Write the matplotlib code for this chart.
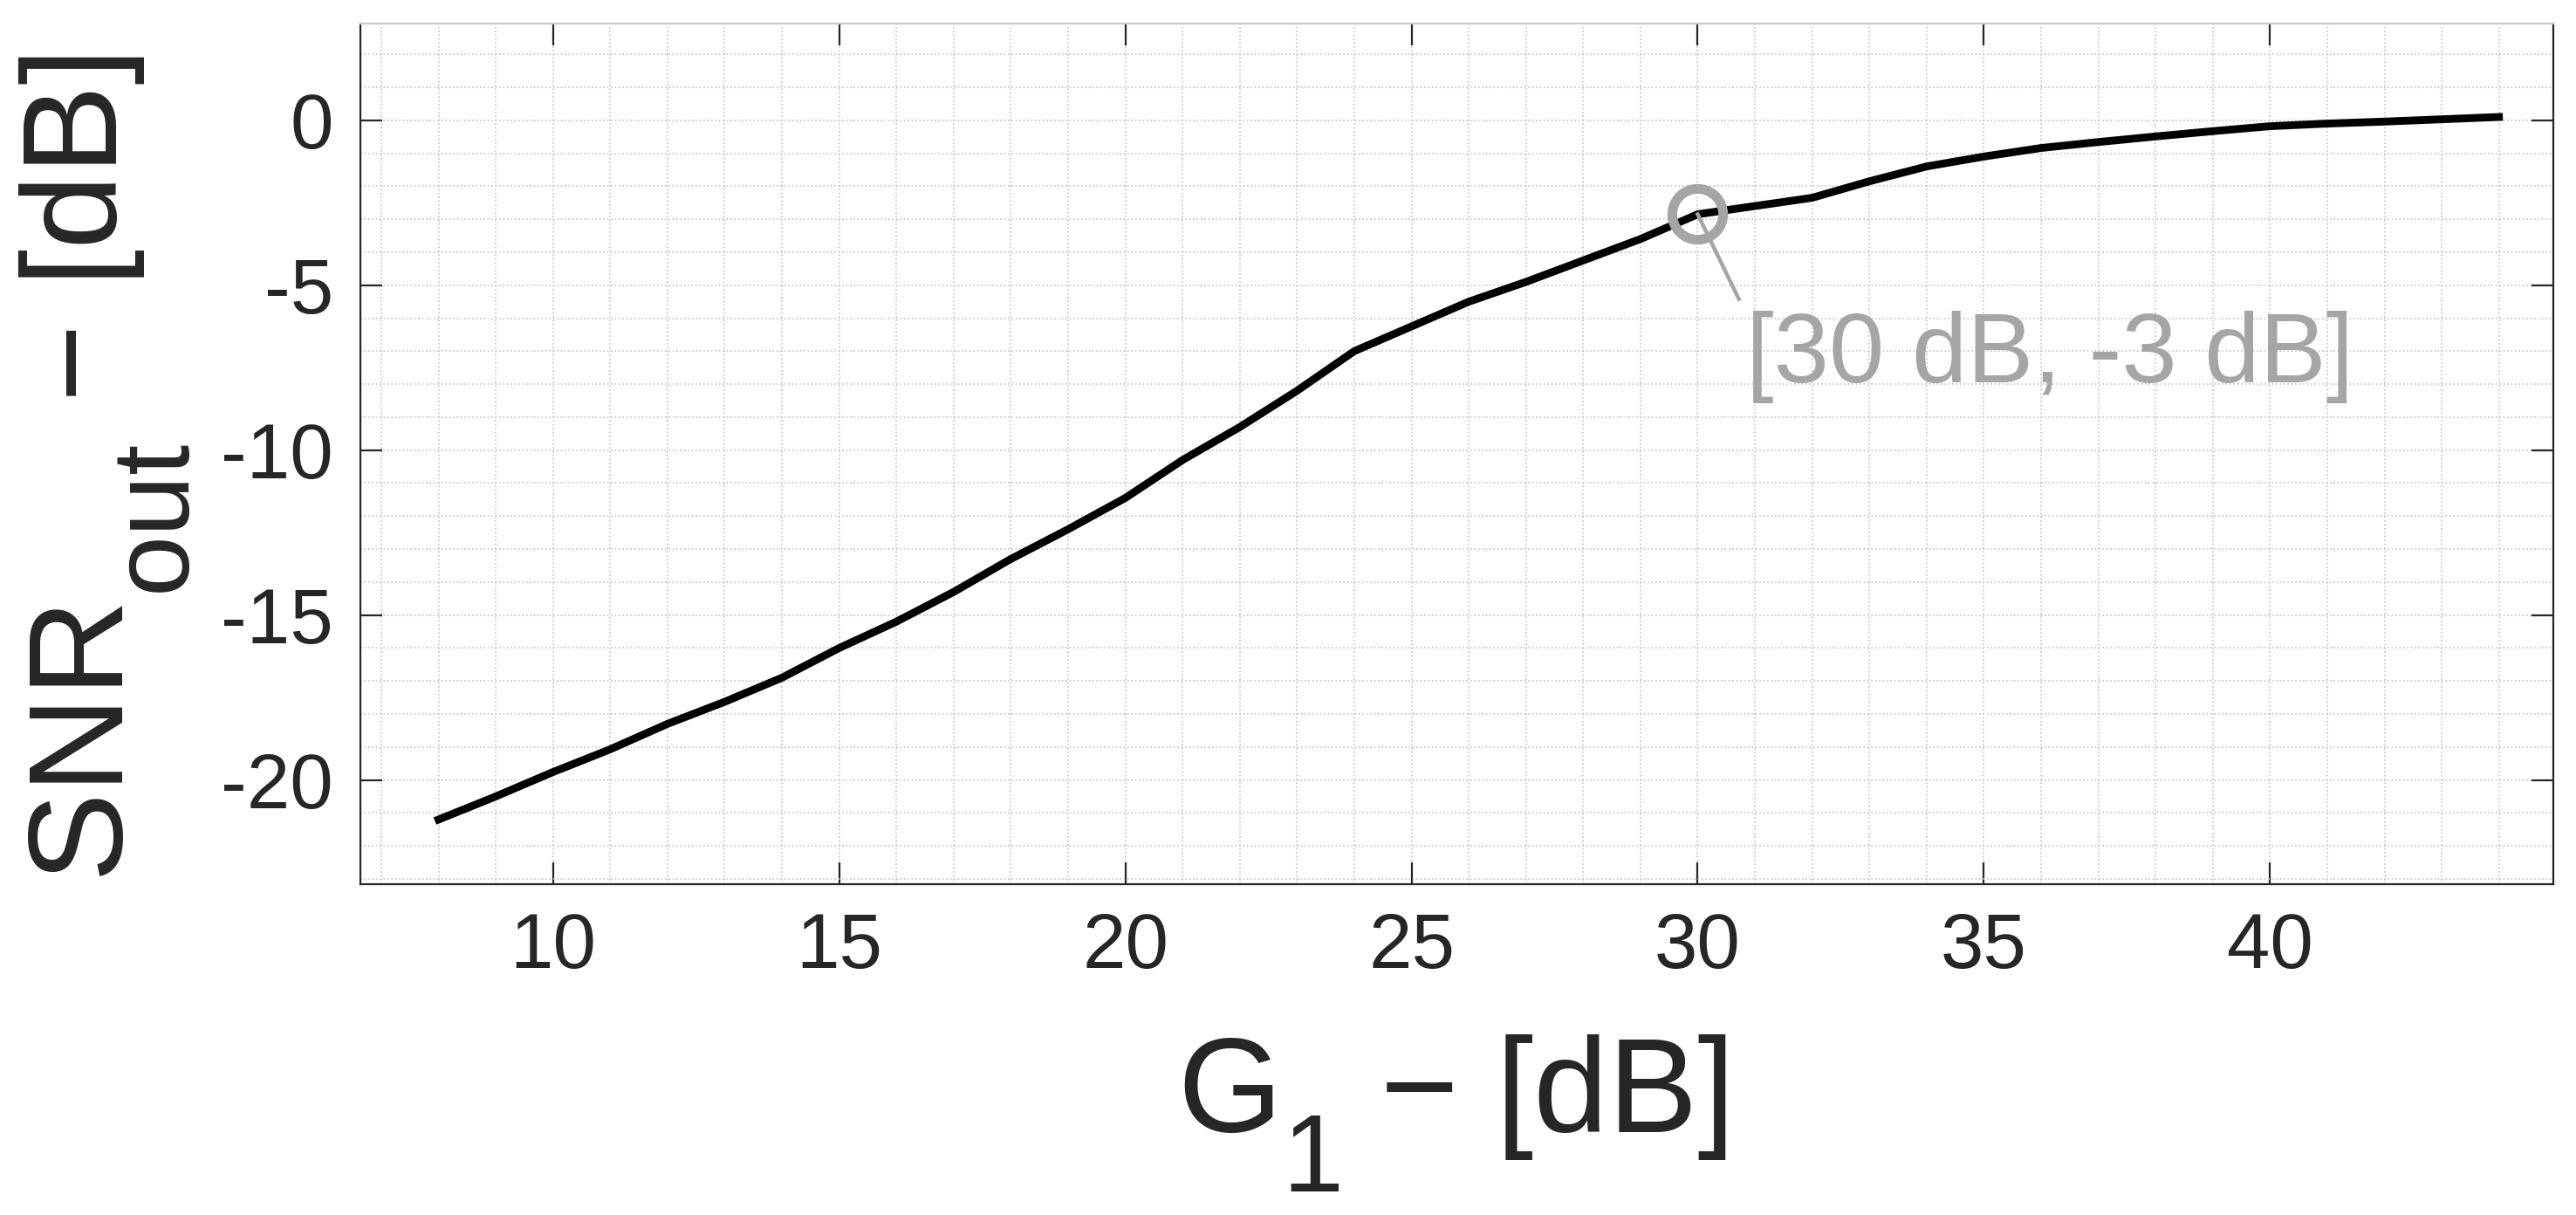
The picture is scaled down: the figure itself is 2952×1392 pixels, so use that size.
import matplotlib.pyplot as plt
from matplotlib.ticker import MultipleLocator

plt.rcParams["font.family"] = ["Liberation Sans", "DejaVu Sans"]
plt.rcParams["axes.unicode_minus"] = False

# G1 [dB] and output SNR [dB]
g1_db = [8, 9, 10, 11, 12, 13, 14, 15, 16, 17, 18, 19, 20, 21, 22, 23, 24, 25,
         26, 27, 28, 29, 30, 31, 32, 33, 34, 35, 36, 37, 38, 39, 40, 41, 42,
         43, 44]
snr_out_db = [-21.2, -20.5, -19.76, -19.07, -18.3, -17.63, -16.9, -16.0,
              -15.2, -14.3, -13.3, -12.4, -11.45, -10.3, -9.3, -8.2, -7.0,
              -6.25, -5.5, -4.9, -4.25, -3.6, -2.85, -2.6, -2.35, -1.85, -1.4,
              -1.1, -0.84, -0.66, -0.49, -0.33, -0.18, -0.1, -0.04, 0.03, 0.1]

x_ticks = [10, 15, 20, 25, 30, 35, 40]
y_ticks = [-20, -15, -10, -5, 0]

mark_g1 = 30
mark_label = "[30 dB, -3 dB]"
mark_leader_end = (30.72, -5.42)
mark_text_pos = (30.84, -7.95)

W, H, DPI = 2952, 1392, 200
INK = "#262626"
MARK = "#a5a5a5"

fig = plt.figure(figsize=(W / DPI, H / DPI), dpi=DPI)
ax = fig.add_axes([412.7 / W, 1 - 1013 / H, (2926 - 412.7) / W, (1013 - 26.7) / H])

ax.plot(g1_db, snr_out_db, color="black", lw=3.2, solid_joinstyle="round", zorder=3)

# data tip at G1 = 30 dB
mark_y = snr_out_db[g1_db.index(mark_g1)]
ax.plot([mark_g1, mark_leader_end[0]], [mark_y, mark_leader_end[1]],
        color=MARK, lw=1.6, zorder=4)
ax.plot(mark_g1, mark_y, marker="o", ms=21, mfc="none", mec=MARK, mew=4, zorder=5)
ax.text(*mark_text_pos, mark_label, fontsize=41, color=MARK, va="baseline", ha="left")

ax.set_xlim(6.63, 44.95)
ax.set_ylim(-23.16, 2.94)
ax.set_xticks(x_ticks)
ax.set_yticks(y_ticks)
ax.xaxis.set_minor_locator(MultipleLocator(1))
ax.yaxis.set_minor_locator(MultipleLocator(1))
ax.grid(which="both", linestyle=":", color="#c2c2c2", lw=0.6)
ax.set_axisbelow(True)

ax.tick_params(which="major", direction="in", top=True, right=True, length=9,
               width=0.8, color=INK, labelsize=32, labelcolor=INK, pad=11)
ax.tick_params(which="minor", length=0, top=True, right=True)
for name, sp in ax.spines.items():
    sp.set_linewidth(0.8)
    sp.set_color("#c8c8c8" if name == "top" else INK)


def px_text(x, y, s, size, rot=0):
    fig.text(x / W, 1 - y / H, s, fontsize=size, color=INK, ha="left",
             va="baseline", rotation=rot, rotation_mode="anchor")


BIG, SUB = 55.4, 45.4
# x label: G_1 - [dB]
px_text(1349, 1297, "G", BIG)
px_text(1469, 1365, "1", SUB)
px_text(1539, 1297, " \u2212 [dB]", BIG)
# y label: SNR_out - [dB]
px_text(134, 1003, "SNR", BIG, 90)
px_text(212, 678, "out", SUB, 90)
px_text(134, 503, " \u2212 [dB]", BIG, 90)

fig.savefig("out.png", dpi=DPI)
